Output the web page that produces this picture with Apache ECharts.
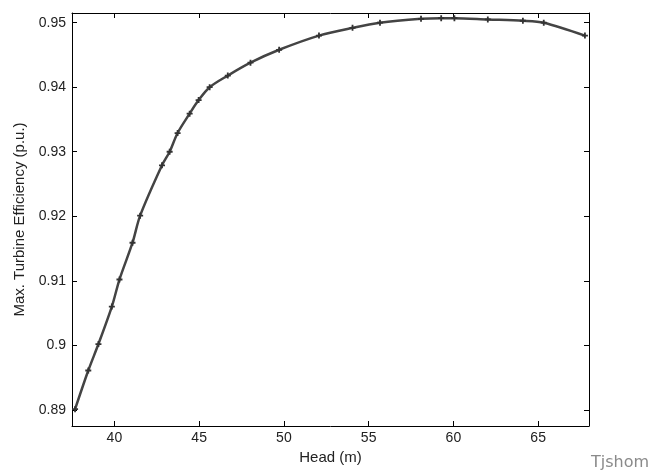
<!DOCTYPE html>
<html>
<head>
<meta charset="utf-8">
<script src="https://cdn.jsdelivr.net/npm/echarts@6/dist/echarts.min.js"></script>
<style>html,body{margin:0;padding:0;background:#fff}#c{width:650px;height:472px}</style>
</head>
<body>
<div id="c"></div>
<script>
var head = [37.68, 38.46, 39.06, 39.85, 40.3, 41.07, 41.52, 42.81, 43.26, 43.73, 44.44, 44.97, 45.62, 46.69, 48.03, 49.72, 52.07, 54.05, 55.67, 58.09, 59.28, 60.06, 62.03, 64.1, 65.33, 67.76];
var efficiency = [0.8901, 0.8961, 0.9002, 0.906, 0.9102, 0.9159, 0.9201, 0.9279, 0.930, 0.9329, 0.9359, 0.938, 0.940, 0.9418, 0.9438, 0.9458, 0.948, 0.9492, 0.950, 0.9506, 0.9507, 0.9507, 0.9505, 0.9503, 0.950, 0.948];
var xTicks = [40, 45, 50, 55, 60, 65];
var yTicks = [0.89, 0.9, 0.91, 0.92, 0.93, 0.94, 0.95];
var xRange = [37.5, 68];
var yRange = [0.8875, 0.9515];

var points = head.map(function (h, i) { return [h, efficiency[i]]; });
var font = 'Liberation Sans';
function xAx(pos, show) {
  return {
    type: 'value', position: pos, min: xRange[0], max: xRange[1],
    splitLine: { show: false },
    axisLine: { show: true, onZero: false, lineStyle: { color: '#000', width: 1 } },
    axisTick: { show: true, inside: true, length: 5, customValues: xTicks, lineStyle: { color: '#000' } },
    axisLabel: { show: show, customValues: xTicks, color: '#222', fontFamily: font, fontSize: 14, margin: 5 },
    name: show ? 'Head (m)' : '', nameLocation: 'middle', nameGap: 23,
    nameTextStyle: { color: '#222', fontFamily: font, fontSize: 15, verticalAlign: 'top' }
  };
}
function yAx(pos, show) {
  return {
    type: 'value', position: pos, min: yRange[0], max: yRange[1],
    splitLine: { show: false },
    axisLine: { show: true, onZero: false, lineStyle: { color: '#000', width: 1 } },
    axisTick: { show: true, inside: true, length: 5, customValues: yTicks, lineStyle: { color: '#000' } },
    axisLabel: { show: show, customValues: yTicks, color: '#222', fontFamily: font, fontSize: 14, margin: 6,
      formatter: function (v) { return String(Math.round(v * 100) / 100); } },
    name: show ? 'Max. Turbine Efficiency (p.u.)' : '', nameLocation: 'middle', nameGap: 43,
    nameTextStyle: { color: '#222', fontFamily: font, fontSize: 15 }
  };
}
var chart = echarts.init(document.getElementById('c'), null, { renderer: 'canvas' });
chart.setOption({
  animation: false,
  backgroundColor: '#fff',
  grid: { left: 72, right: 61, top: 13, bottom: 46, containLabel: false, outerBoundsMode: 'none' },
  xAxis: [xAx('bottom', true), xAx('top', false)],
  yAxis: [yAx('left', true), yAx('right', false)],
  series: [{
    type: 'line',
    data: points,
    smooth: 0.3,
    clip: true,
    symbol: 'path://M-0.3,-1H0.3V-0.3H1V0.3H0.3V1H-0.3V0.3H-1V-0.3H-0.3Z',
    symbolSize: 6,
    showAllSymbol: true,
    itemStyle: { color: '#333' },
    lineStyle: { color: '#444', width: 2.5 }
  }],
  graphic: [{
    type: 'text', right: 1, bottom: 1,
    style: { text: 'Tjshom', fill: '#8a8a8a', font: '16px "DejaVu Sans"' }
  }]
});
</script>
</body>
</html>
